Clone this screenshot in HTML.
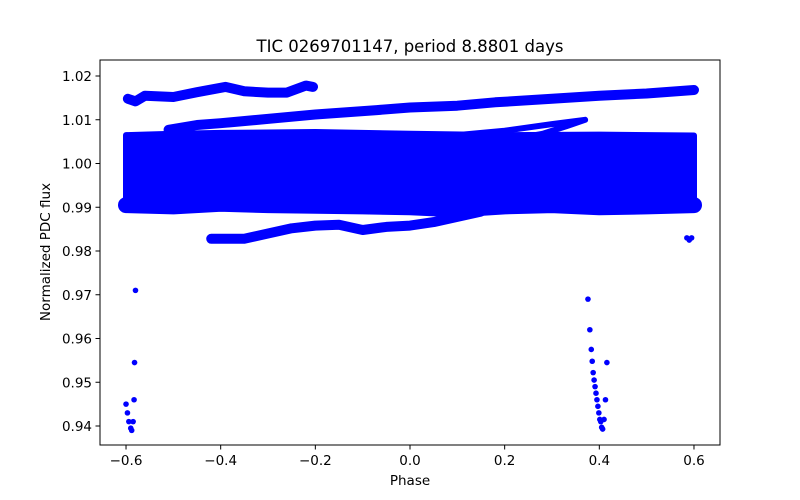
<!DOCTYPE html>
<html><head><meta charset="utf-8"><style>
html,body{margin:0;padding:0;background:#fff;}
svg{display:block;font-family:"DejaVu Sans","Liberation Sans",sans-serif;}
</style></head><body>
<svg id="chart" width="800" height="500" viewBox="0 0 800 500">
<rect x="0" y="0" width="800" height="500" fill="#fff"/>
<g id="marks"></g>
<rect x="100" y="60" width="620" height="385" fill="none" stroke="#000" stroke-width="1"/>
<g id="axes"></g>
<text x="410" y="52" text-anchor="middle" font-size="16.5">TIC 0269701147, period 8.8801 days</text>
<text x="410" y="485" text-anchor="middle" font-size="13.5">Phase</text>
<text x="50" y="252" text-anchor="middle" font-size="13.5" transform="rotate(-90 50 252)">Normalized PDC flux</text>
</svg>
<script>
const xTicks=[-0.6,-0.4,-0.2,0.0,0.2,0.4,0.6];
const xTickLabels=["\u22120.6","\u22120.4","\u22120.2","0.0","0.2","0.4","0.6"];
const yTicks=[0.94,0.95,0.96,0.97,0.98,0.99,1.00,1.01,1.02];
const yTickLabels=["0.94","0.95","0.96","0.97","0.98","0.99","1.00","1.01","1.02"];
const blobTop=[[-0.6,1.0065],[-0.5,1.0068],[-0.4,1.007],[-0.2,1.0072],[0,1.0068],[0.2,1.0065],[0.4,1.0066],[0.6,1.0064]];
const blobBottom=[[-0.6,0.9915],[-0.4,0.9915],[-0.2,0.9918],[0,0.9912],[0.2,0.9912],[0.4,0.9915],[0.6,0.9915]];
const lowBand=[[-0.6,0.9905],[-0.5,0.9902],[-0.4,0.9908],[-0.3,0.9905],[-0.1,0.9902],[0,0.99],[0.1,0.9895],[0.2,0.9902],[0.3,0.9905],[0.4,0.99],[0.5,0.9902],[0.6,0.9905]];
const strandA=[[-0.596,1.0148],[-0.58,1.0142],[-0.56,1.0155],[-0.5,1.0152],[-0.45,1.0163],[-0.39,1.0175],[-0.35,1.0165],[-0.3,1.0162],[-0.26,1.0162],[-0.22,1.0178],[-0.205,1.0175]];
const strandB=[[-0.51,1.0077],[-0.45,1.0088],[-0.4,1.0092],[-0.3,1.0102],[-0.2,1.0112],[-0.07,1.0122],[0.0,1.0128],[0.1,1.0132],[0.18,1.014],[0.3,1.0148],[0.4,1.0155],[0.5,1.016],[0.6,1.0168]];
const loopStrand=[[0.01,1.0054],[0.1,1.0065],[0.2,1.0075],[0.3,1.009],[0.37,1.01],[0.33,1.0085],[0.28,1.0068],[0.23,1.0058]];
const strandLow=[[-0.42,0.9828],[-0.35,0.9828],[-0.3,0.9840],[-0.25,0.9852],[-0.2,0.9858],[-0.15,0.9860],[-0.1,0.9848],[-0.05,0.9855],[0,0.9858],[0.05,0.9866],[0.1,0.9878],[0.15,0.989]];
const dipPhase=[-0.6,-0.597,-0.594,-0.59,-0.588,-0.585,-0.583,-0.582,-0.58,0.376,0.380,0.383,0.385,0.387,0.389,0.391,0.393,0.395,0.397,0.399,0.401,0.403,0.405,0.407,0.410,0.413,0.416,0.585,0.59,0.595];
const dipFlux=[0.945,0.943,0.941,0.9395,0.939,0.941,0.946,0.9545,0.971,0.969,0.962,0.9575,0.9548,0.9522,0.9505,0.949,0.9475,0.946,0.9445,0.943,0.9415,0.941,0.9397,0.9393,0.9415,0.946,0.9545,0.983,0.9825,0.983];

const NS="http://www.w3.org/2000/svg";
const X=p=>410+(p/0.1)*47.33;
const Y=f=>76+((1.02-f)/0.01)*43.75;
const marks=document.getElementById('marks');
const axes=document.getElementById('axes');
function pts(a){return a.map(d=>X(d[0]).toFixed(1)+','+Y(d[1]).toFixed(1)).join(' ');}

const blob=document.createElementNS(NS,'polygon');
blob.setAttribute('points',pts(blobTop.concat(blobBottom.slice().reverse())));
blob.setAttribute('fill','#0000ff');blob.setAttribute('stroke','#0000ff');blob.setAttribute('stroke-width','6');blob.setAttribute('stroke-linejoin','round');


marks.appendChild(blob);

function strand(a,w,name){
  const l=document.createElementNS(NS,'polyline');
  l.setAttribute('points',pts(a));
  l.setAttribute('fill','none');l.setAttribute('stroke','#0000ff');l.setAttribute('stroke-width',w);
  l.setAttribute('stroke-linecap','round');l.setAttribute('stroke-linejoin','round');
  
  
  marks.appendChild(l);
}
strand(lowBand,'16','lower-flux-band');
strand(strandA,'10','upper-left-strand');
strand(strandB,'10','upper-strand');
strand(loopStrand,'6','loop-strand');
strand(strandLow,'10','low-strand');

for(let i=0;i<dipPhase.length;i++){
  const c=document.createElementNS(NS,'circle');
  c.setAttribute('cx',X(dipPhase[i]));c.setAttribute('cy',Y(dipFlux[i]));c.setAttribute('r','2.8');c.setAttribute('fill','#0000ff');
  
  
  marks.appendChild(c);
}

xTicks.forEach((t,i)=>{
  const l=document.createElementNS(NS,'line');
  l.setAttribute('x1',X(t));l.setAttribute('x2',X(t));l.setAttribute('y1',445);l.setAttribute('y2',449.5);l.setAttribute('stroke','#000');
  
  
  axes.appendChild(l);
  const tx=document.createElementNS(NS,'text');
  tx.setAttribute('x',X(t));tx.setAttribute('y',465);tx.setAttribute('text-anchor','middle');tx.setAttribute('font-size','13.5');
  tx.textContent=xTickLabels[i];
  
  
  axes.appendChild(tx);
});
yTicks.forEach((t,i)=>{
  const l=document.createElementNS(NS,'line');
  l.setAttribute('x1',95.5);l.setAttribute('x2',100);l.setAttribute('y1',Y(t));l.setAttribute('y2',Y(t));l.setAttribute('stroke','#000');
  
  
  axes.appendChild(l);
  const tx=document.createElementNS(NS,'text');
  tx.setAttribute('x',92);tx.setAttribute('y',Y(t)+5);tx.setAttribute('text-anchor','end');tx.setAttribute('font-size','13.5');
  tx.textContent=yTickLabels[i];
  
  
  axes.appendChild(tx);
});
</script>
</body></html>
